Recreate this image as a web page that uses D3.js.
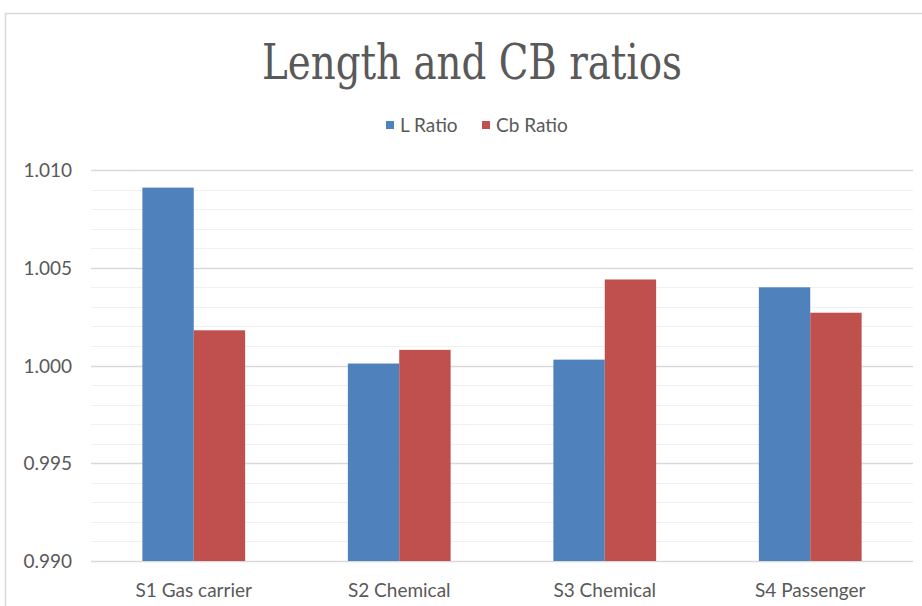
<!DOCTYPE html>
<html><head><meta charset="utf-8">
<script src="https://cdn.jsdelivr.net/npm/d3@7"></script>
<style>
html,body{margin:0;padding:0;background:#fff;}
text{font-family:Lato,"Liberation Sans",sans-serif;fill:#595959;}
</style></head>
<body><svg id="c" width="922" height="606"></svg>
<script>
const categories = ["S1 Gas carrier","S2 Chemical","S3 Chemical","S4 Passenger"];
const seriesNames = ["L Ratio","Cb Ratio"];
const lRatio = [1.0091, 1.0001, 1.0003, 1.0040];
const cbRatio = [1.0018, 1.0008, 1.0044, 1.0027];
const colors = ["#4f81bd","#c0504d"];
const yTicks = [0.990, 0.995, 1.000, 1.005, 1.010];
const yMinorTicks = d3.range(0,21).map(i => 0.990 + i*0.001);
const yDomain = [0.990, 1.010];

const svg = d3.select("#c");
// chart border
svg.append("rect").attr("x",5.5).attr("y",13.5).attr("width",930).attr("height",620)
  .attr("fill","none").attr("stroke","#d9d9d9").attr("stroke-width",1.5);

const L = 91, R = 913, T = 170, B = 561;
const y = d3.scaleLinear().domain(yDomain).range([B, T]);
const x0 = d3.scaleBand().domain(categories).range([L, R]).paddingInner(0.5).paddingOuter(0.25);
const x1 = d3.scaleBand().domain(seriesNames).range([0, x0.bandwidth()]);

// minor gridlines
svg.append("g").selectAll("line").data(yMinorTicks).join("line")
  .attr("x1",L).attr("x2",R).attr("y1",d=>Math.round(y(d))+0.5).attr("y2",d=>Math.round(y(d))+0.5)
  .attr("stroke","#f0f0f0").attr("stroke-width",1);
// major gridlines
svg.append("g").selectAll("line").data(yTicks).join("line")
  .attr("x1",L).attr("x2",R).attr("y1",d=>Math.round(y(d))+0.5).attr("y2",d=>Math.round(y(d))+0.5)
  .attr("stroke","#d9d9d9").attr("stroke-width",1.5);

// y axis labels
const yAxis = d3.axisLeft(y).tickValues(yTicks).tickFormat(d3.format(".3f")).tickSize(0).tickPadding(0);
const gy = svg.append("g").attr("transform",`translate(72,0)`).call(yAxis);
gy.select(".domain").remove();
gy.selectAll("text").style("font-size","19px").attr("fill","#595959").attr("dy","0.35em")
  .style("font-family","Lato,'Liberation Sans',sans-serif");

// bars
const series = [lRatio, cbRatio];
const g = svg.append("g");
categories.forEach((c, ci) => {
  seriesNames.forEach((s, si) => {
    const v = series[si][ci];
    g.append("rect")
      .attr("x", x0(c) + x1(s))
      .attr("width", x1.bandwidth())
      .attr("y", y(v))
      .attr("height", y(yDomain[0]) - y(v))
      .attr("fill", colors[si]);
  });
});

// x axis labels
const xAxis = d3.axisBottom(x0).tickSize(0).tickPadding(0);
const gx = svg.append("g").attr("transform",`translate(0,${B+29})`).call(xAxis);
gx.select(".domain").remove();
gx.selectAll("text").style("font-size","19px").attr("fill","#595959").attr("dy","0.35em")
  .style("font-family","Lato,'Liberation Sans',sans-serif");

// title
svg.append("text").attr("x",472).attr("y",79).attr("text-anchor","middle")
  .attr("textLength",420).attr("lengthAdjust","spacingAndGlyphs")
  .style("font-family","'DejaVu Serif Condensed','Liberation Serif',serif")
  .style("font-size","48px").text("Length and CB ratios");

// legend
const leg = svg.append("g");
const legX = [386, 482];
seriesNames.forEach((s,i)=>{
  leg.append("rect").attr("x",legX[i]).attr("y",121).attr("width",8).attr("height",8).attr("fill",colors[i]);
  leg.append("text").attr("x",legX[i]+14).attr("y",125).attr("dy","0.35em")
    .style("font-size","19px").text(s);
});
</script></body></html>
